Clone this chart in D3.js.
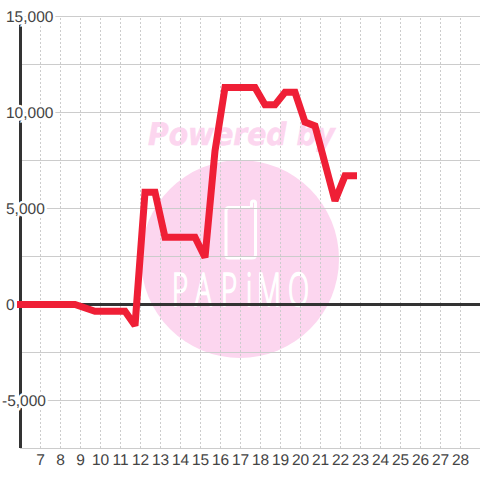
<!DOCTYPE html>
<html>
<head>
<meta charset="utf-8">
<script src="https://d3js.org/d3.v7.min.js"></script>
<style>
html, body { margin: 0; padding: 0; background: #fff; }
svg { display: block; }
text { font-family: "Liberation Sans", sans-serif; text-rendering: geometricPrecision; }
</style>
</head>
<body>
<div class="chart"></div>
<script>
// values
var days = [5.85, 8.75, 9.75, 10.75, 11.25, 11.75, 12.25, 12.75, 13.25, 14.75, 15.25, 15.75, 16.25, 17.75, 18.25, 18.75, 19.25, 19.75, 20.25, 20.75, 21.75, 22.25, 22.85];
var values = [0, 0, -350, -350, -350, -1100, 5850, 5850, 3500, 3500, 2450, 8000, 11300, 11300, 10400, 10400, 11050, 11050, 9500, 9300, 5400, 6700, 6700];
var xTicks = [7, 8, 9, 10, 11, 12, 13, 14, 15, 16, 17, 18, 19, 20, 21, 22, 23, 24, 25, 26, 27, 28];
var yTicks = [-7500, -5000, -2500, 0, 2500, 5000, 7500, 10000, 12500, 15000];
var yLabels = [-5000, 0, 5000, 10000, 15000];
var logoLetters = ["P", "A", "P", "i", "M", "O"];
var logoX = [172, 195, 221, 246, 257, 288];

var svgWidth = 480;
var svgHeight = 480;

var svg = d3.select(".chart")
    .append("svg")
    .attr("width", svgWidth)
    .attr("height", svgHeight);

// d3 axes add the half pixel themselves at this pixel ratio
var xScale = d3.scaleLinear().domain([6, 29]).range([20, 480]);
var yScale = d3.scaleLinear().domain([-7500, 15000]).range([448, 16]);

// watermark sits under the grid
var mark = svg.append("g");
mark.append("circle")
    .attr("cx", 240)
    .attr("cy", 259)
    .attr("r", 99)
    .attr("fill", "#fcd6ef");
mark.append("text")
    .attr("x", 148)
    .attr("y", 145)
    .attr("fill", "#fcd6ef")
    .attr("stroke", "#fcd6ef")
    .attr("stroke-width", 0.6)
    .style("font-family", "'DejaVu Sans'")
    .style("font-weight", "bold")
    .style("font-style", "italic")
    .style("font-size", "31px")
    .attr("textLength", 187)
    .attr("lengthAdjust", "spacingAndGlyphs")
    .text("Powered by");
mark.append("path")
    .attr("d", "M250,207.5 H229 Q226,207.5 226,210.5 V255 Q226,258 229,258 H252 Q255.5,258 255.5,255 V203 Q255.5,201 253.5,201 Q251.5,201 251.5,203 V207.5")
    .attr("fill", "none")
    .attr("stroke", "#fff")
    .attr("stroke-width", 3);
mark.append("g")
    .attr("transform", "translate(0,306) scale(0.6,1)")
    .selectAll("text")
    .data(logoLetters)
    .enter()
    .append("text")
    .attr("x", (d, i) => logoX[i] / 0.6)
    .attr("fill", "#fff")
    .attr("stroke", "#fff")
    .attr("stroke-width", 1.8)
    .style("font-family", "'Open Sans'")
    .style("font-weight", 300)
    .style("font-size", "46px")
    .text(d => d);

// grid
var xGrid = svg.append("g")
    .attr("transform", "translate(0,448)")
    .call(d3.axisBottom(xScale).tickValues(xTicks).tickSize(-432).tickFormat(""));
xGrid.select(".domain").remove();
xGrid.selectAll("line")
    .attr("stroke", "#ccc")
    .attr("stroke-dasharray", "2,2");

var yGrid = svg.append("g")
    .attr("transform", "translate(20,0)")
    .call(d3.axisRight(yScale).tickValues(yTicks).tickSize(460).tickFormat(""));
yGrid.select(".domain").remove();
yGrid.selectAll("line").attr("stroke", "#ccc");

// axis lines
svg.append("line")
    .attr("x1", xScale(6) + 0.5)
    .attr("x2", xScale(6) + 0.5)
    .attr("y1", 24)
    .attr("y2", yScale(-7500))
    .attr("stroke", "#333")
    .attr("stroke-width", 3);
svg.append("line")
    .attr("x1", xScale(6))
    .attr("x2", 480)
    .attr("y1", yScale(0) + 0.5)
    .attr("y2", yScale(0) + 0.5)
    .attr("stroke", "#333")
    .attr("stroke-width", 3);

// labels
var yAxis = svg.append("g")
    .call(d3.axisLeft(yScale).tickValues(yLabels).tickSize(0).tickFormat(d => d3.format(",")(d).replace("\u2212", "-")));
yAxis.select(".domain").remove();
yAxis.selectAll("text")
    .attr("text-anchor", "start")
    .attr("x", d => d < 0 ? 2 : 6)
    .attr("dy", "0.35em")
    .attr("fill", "#444")
    .style("font-size", "15.5px")
    .style("paint-order", "stroke")
    .attr("stroke", "#fff")
    .attr("stroke-width", 5);

var xAxis = svg.append("g")
    .attr("transform", "translate(0,448)")
    .call(d3.axisBottom(xScale).tickValues(xTicks).tickSize(0).tickPadding(6).tickFormat(d3.format("d")));
xAxis.select(".domain").remove();
xAxis.selectAll("text")
    .attr("fill", "#444")
    .style("font-size", "15.5px");

// series
var line = d3.line()
    .x(d => xScale(d))
    .y((d, i) => yScale(values[i]) + 0.5);

svg.append("path")
    .attr("d", line(days))
    .attr("fill", "none")
    .attr("stroke", "#ef1f36")
    .attr("stroke-width", 7)
    .attr("stroke-linejoin", "miter")
    .attr("stroke-miterlimit", 2);
</script>
</body>
</html>
